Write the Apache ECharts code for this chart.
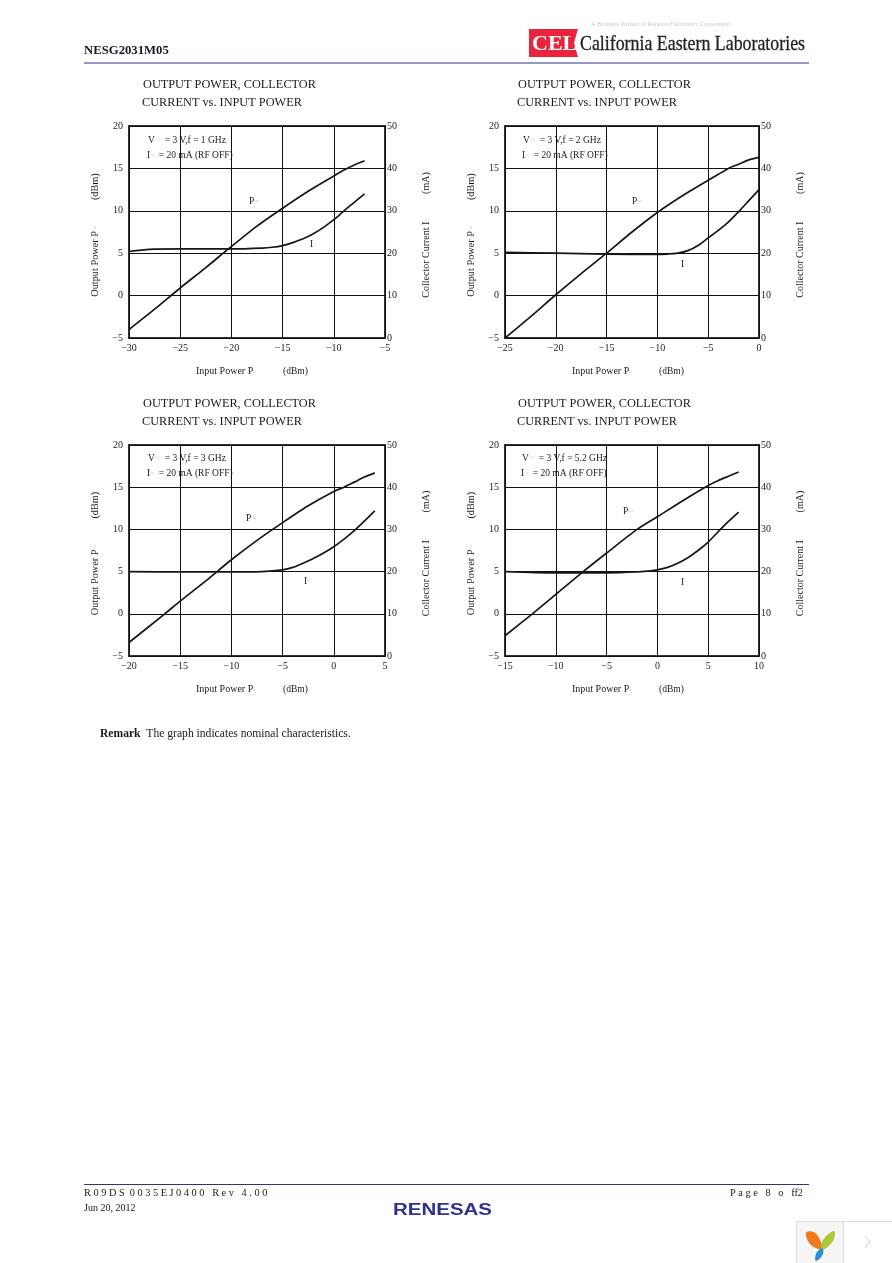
<!DOCTYPE html>
<html><head><meta charset="utf-8">
<style>html,body{margin:0;padding:0;background:#fff}#c{width:892px;height:1263px}</style>
<script src="https://cdn.jsdelivr.net/npm/echarts@6/dist/echarts.min.js"></script>
</head><body><div id="c"></div>
<script>
// ---- data ----
const freqLabels = ['1 GHz', '2 GHz', '3 GHz', '5.2 GHz'];
const xMins = [-30, -25, -20, -15];
const xMaxs = [-5, 0, 5, 10];

const pout1X = [-30, -27.5, -25, -22.5, -20, -17.5, -15, -12.5, -10, -9, -8, -7];
const pout1Y = [-4, -1.6, 0.9, 3.3, 5.8, 8.2, 10.3, 12.3, 14.1, 14.8, 15.4, 15.9];
const ic1X = [-30, -28, -25, -20, -17, -16, -15, -14, -13, -12, -11, -10, -9, -8, -7];
const ic1Y = [20.4, 20.9, 21, 21, 21.2, 21.4, 21.8, 22.5, 23.4, 24.6, 26.1, 27.9, 30, 32, 34];

const pout2X = [-25, -22.5, -20, -17.5, -15, -12.5, -10, -7.5, -5, -4, -3, -2, -1, 0];
const pout2Y = [-5, -2.5, 0.1, 2.6, 5, 7.5, 9.8, 11.8, 13.6, 14.3, 15, 15.5, 16, 16.3];
const ic2X = [-25, -20, -15, -10, -9, -8, -7, -6, -5, -4, -3, -2, -1, 0];
const ic2Y = [20.2, 20, 19.8, 19.7, 19.8, 20, 20.6, 21.8, 23.6, 25.4, 27.4, 29.8, 32.4, 35];

const pout3X = [-20, -16.5, -15, -12.5, -10, -7.5, -5, -2.5, 0, 1, 2, 3, 4];
const pout3Y = [-3.4, 0, 1.5, 3.9, 6.4, 8.7, 10.8, 12.8, 14.5, 15, 15.6, 16.2, 16.7];
const ic3X = [-20, -15, -10, -7, -5, -4, -3, -2, -1, 0, 1, 2, 3, 4];
const ic3Y = [20, 19.9, 19.9, 20, 20.4, 21, 22, 23.1, 24.4, 25.9, 27.7, 29.7, 32, 34.4];

const pout4X = [-15, -12.3, -10, -7.3, -5, -2, 0, 2.5, 5, 6, 7, 8];
const pout4Y = [-2.6, 0, 2.3, 5, 7.2, 10, 11.5, 13.4, 15.2, 15.8, 16.3, 16.8];
const ic4X = [-15, -10, -5, -2, -1, 0, 1, 2, 3, 4, 5, 6, 7, 8];
const ic4Y = [20, 19.7, 19.7, 19.9, 20.1, 20.4, 21, 22, 23.3, 25, 27, 29.5, 31.9, 34.1];

const poutSets = [[pout1X, pout1Y], [pout2X, pout2Y], [pout3X, pout3Y], [pout4X, pout4Y]];
const icSets = [[ic1X, ic1Y], [ic2X, ic2Y], [ic3X, ic3Y], [ic4X, ic4Y]];

// ---- layout ----
const SERIF = '"Liberation Serif","Times New Roman",serif';
const boxes = [
  {l:129, r:385, t:126, b:338, tx:143, ty:85,  nx:148, ny:141, px:249, py:201, ix:310, iy:244, xn:196},
  {l:505, r:759, t:126, b:338, tx:518, ty:85,  nx:523, ny:141, px:632, py:201, ix:681, iy:264, xn:572},
  {l:129, r:385, t:445, b:656, tx:143, ty:404, nx:148, ny:459, px:246, py:518, ix:304, iy:581, xn:196},
  {l:505, r:759, t:445, b:656, tx:518, ty:404, nx:522, ny:459, px:623, py:511, ix:681, iy:582, xn:572}
];
const zip = (a, b) => a.map((v, i) => [v, b[i]]);
const subStyle = {fontSize: 4, fill: '#cfcfcf', fontFamily: SERIF};
const subAxis = {fontSize: 4, color: '#cfcfcf', fontFamily: SERIF};

function txt(x, y, s, o) {
  o = o || {};
  return {type: 'text', x: x, y: y, silent: true, rotation: o.rotation || 0,
    style: {text: s, fontSize: o.size || 10, fontFamily: o.family || SERIF, fontWeight: o.weight || 'normal',
      fill: o.fill || '#1a1a1a', align: o.align || 'left', verticalAlign: 'middle', rich: o.rich}};
}
const richSub = {s: subStyle};

const grids = [], xAxes = [], yAxes = [], series = [], gfx = [];
boxes.forEach((b, i) => {
  grids.push({left: b.l, top: b.t, width: b.r - b.l, height: b.b - b.t, show: true,
    borderColor: '#333', borderWidth: 2, backgroundColor: 'transparent'});
  const lab = {color: '#1a1a1a', fontFamily: SERIF, fontSize: 10};
  xAxes.push({type: 'value', gridIndex: i, min: xMins[i], max: xMaxs[i], interval: 5,
    axisLine: {show: false}, axisTick: {show: false},
    splitLine: {show: true, lineStyle: {color: '#111', width: 1}},
    axisLabel: Object.assign({}, lab, {margin: 5, showMinLabel: true, showMaxLabel: true,
      formatter: v => String(v).replace('-', '\u2212')})});
  yAxes.push({type: 'value', gridIndex: i, position: 'left', min: -5, max: 20, interval: 5,
    axisLine: {show: false}, axisTick: {show: false},
    splitLine: {show: true, lineStyle: {color: '#111', width: 1}},
    axisLabel: Object.assign({}, lab, {margin: 6, formatter: v => String(v).replace('-', '\u2212')}),
    name: 'Output Power P{s|out}          (dBm)', nameLocation: 'middle', nameGap: 29, nameRotate: 90,
    nameTextStyle: {color: '#1a1a1a', fontFamily: SERIF, fontSize: 10.3, padding: [0, 6, 0, 0], rich: {s: subAxis}}});
  yAxes.push({type: 'value', gridIndex: i, position: 'right', min: 0, max: 50, interval: 10,
    axisLine: {show: false}, axisTick: {show: false}, splitLine: {show: false},
    axisLabel: Object.assign({}, lab, {margin: 2}),
    name: 'Collector Current I{s|C}          (mA)', nameLocation: 'middle', nameGap: 36, nameRotate: 90,
    nameTextStyle: {color: '#1a1a1a', fontFamily: SERIF, fontSize: 10, padding: [0, 6, 0, 0], rich: {s: subAxis}}});
  const lineCfg = {type: 'line', smooth: 0.25, showSymbol: false, silent: true,
    lineStyle: {color: '#161616', width: 1.7}, itemStyle: {color: '#161616'}};
  series.push(Object.assign({}, lineCfg, {name: 'Pout', xAxisIndex: i, yAxisIndex: i * 2,
    data: zip(poutSets[i][0], poutSets[i][1])}));
  series.push(Object.assign({}, lineCfg, {name: 'IC', xAxisIndex: i, yAxisIndex: i * 2 + 1,
    data: zip(icSets[i][0], icSets[i][1])}));

  gfx.push(txt(b.tx, b.ty, 'OUTPUT POWER, COLLECTOR', {size: 12.3}));
  gfx.push(txt(b.tx - 1, b.ty + 18, 'CURRENT vs. INPUT POWER', {size: 12.3}));
  gfx.push(txt(b.nx, b.ny - 1, 'V{s|CE}  = 3 V,f = ' + freqLabels[i], {size: 9.5, rich: richSub}));
  gfx.push(txt(b.nx - 1, b.ny + 14, 'I{s|cq}  = 20 mA (RF OFF)', {size: 9.5, rich: richSub}));
  gfx.push(txt(b.px, b.py, 'P{s|out}', {size: 9.5, rich: richSub}));
  gfx.push(txt(b.ix, b.iy, 'I{s|C}', {size: 9.5, rich: richSub}));
  gfx.push(txt(b.xn, b.b + 33.5, 'Input Power P{s|in}', {size: 10, rich: richSub}));
  gfx.push(txt(b.xn + 87, b.b + 33.5, '(dBm)', {size: 9.5}));
});

// ---- page furniture ----
const BLUE = '#2e3192';
gfx.push({type: 'rect', shape: {x: 84, y: 62.6, width: 725, height: 1}, style: {fill: BLUE}, silent: true, z: 50});
gfx.push({type: 'rect', shape: {x: 84, y: 1184, width: 725, height: 1}, style: {fill: BLUE}, silent: true});
gfx.push({type: 'text', silent: true, x: 84, y: 50.5, scaleX: 1.06,
  style: {text: 'NESG2031M05', fontSize: 12, fontWeight: 'bold', fontFamily: SERIF, fill: '#1a1a1a', verticalAlign: 'middle'}});
gfx.push(txt(591, 24.5, 'A Business Partner of Renesas Electronics Corporation', {size: 6.3, fill: '#c8c8c8'}));
gfx.push({type: 'polygon', silent: true, shape: {points: [[529,29],[578,29],[574,43],[578,57],[529,57]]}, style: {fill: '#e9243c'}});
gfx.push(txt(532, 44, 'CEL', {size: 22, weight: 'bold', fill: '#fff'}));
gfx.push({type: 'text', silent: true, x: 580, y: 44, scaleX: 0.85,
  style: {text: 'California Eastern Laboratories', fontSize: 21, fontFamily: SERIF, fill: '#222', stroke: '#222', lineWidth: 0.3, verticalAlign: 'middle'}});
gfx.push(txt(100, 733.5, '{b|Remark}  The graph indicates nominal characteristics.', {size: 11.6,
  rich: {b: {fontWeight: 'bold', fontSize: 11.6, fontFamily: SERIF, fill: '#1a1a1a'}}}));
gfx.push(txt(84, 1193, 'R 0 9 D S  0 0 3 5 E J 0 4 0 0   R e v   4 . 0 0', {size: 10.3}));
gfx.push(txt(84, 1208, 'Jun 20, 2012', {size: 10}));
gfx.push(txt(803, 1193, 'P a g e   8   o   ff2', {size: 10.3, align: 'right'}));
gfx.push({type: 'text', silent: true, x: 393, y: 1211, scaleX: 1.28,
  style: {text: 'RENESAS', fontSize: 16, fontWeight: 'bold', fontFamily: '"Liberation Sans",sans-serif', fill: BLUE, verticalAlign: 'middle'}});
// viewer widget
gfx.push({type: 'rect', silent: true, shape: {x: 796.5, y: 1221.5, width: 47, height: 45}, style: {fill: '#f5f5f5', stroke: '#ddd', lineWidth: 1}});
gfx.push({type: 'rect', silent: true, shape: {x: 843.5, y: 1221.5, width: 50, height: 45}, style: {fill: '#fff', stroke: '#ddd', lineWidth: 1}});
gfx.push({type: 'polygon', silent: true, shape: {smooth: 0.4, points: [[806,1233],[814,1232],[820,1240],[822,1249],[811,1245]]}, style: {fill: '#f07a1c'}});
gfx.push({type: 'polygon', silent: true, shape: {smooth: 0.4, points: [[834,1231],[833,1241],[822,1250],[823,1240]]}, style: {fill: '#a8c93a'}});
gfx.push({type: 'polygon', silent: true, shape: {smooth: 0.4, points: [[822,1248],[823,1254],[816,1261],[816,1254]]}, style: {fill: '#2b8fd6'}});
gfx.push({type: 'polyline', silent: true, shape: {points: [[865,1236],[870,1242],[865,1248]]}, style: {stroke: '#ccc', fill: 'none', lineWidth: 1}});

const chart = echarts.init(document.getElementById('c'), null, {width: 892, height: 1263, renderer: 'canvas'});
chart.setOption({animation: false, backgroundColor: '#fff', grid: grids, xAxis: xAxes, yAxis: yAxes, series: series, graphic: {elements: gfx}});
</script></body></html>
